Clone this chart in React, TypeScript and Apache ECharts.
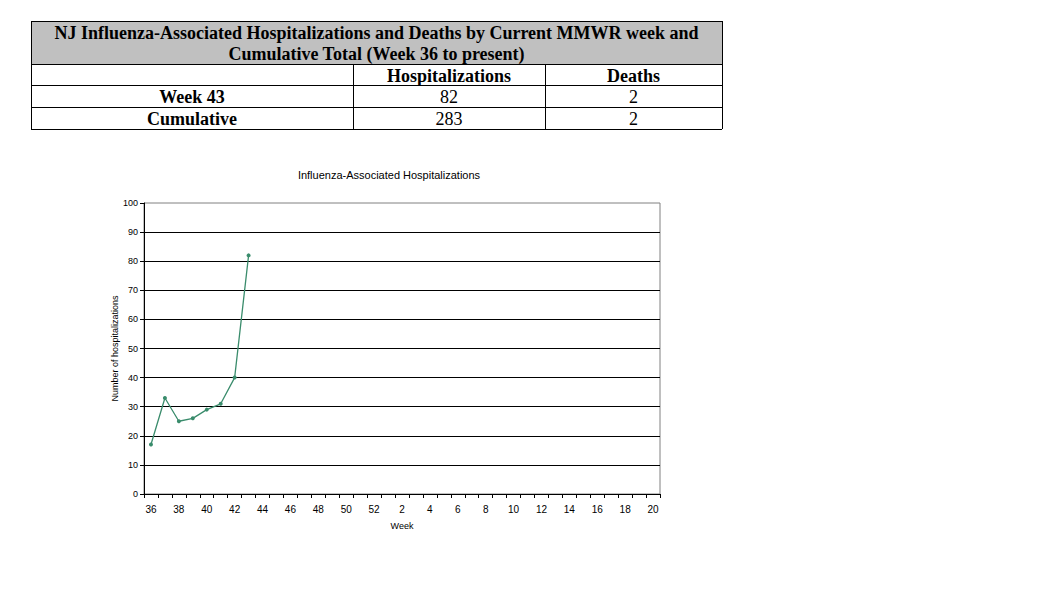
import React, { useEffect, useRef } from "react";
import * as echarts from "echarts";

const weeks: string[] = [
  "36", "37", "38", "39", "40", "41", "42", "43", "44", "45", "46", "47", "48", "49", "50", "51", "52",
  "1", "2", "3", "4", "5", "6", "7", "8", "9", "10", "11", "12", "13", "14", "15", "16", "17", "18", "19", "20",
];
const hospitalizations: number[] = [17, 33, 25, 26, 29, 31, 40, 82];

const tableTitle = [
  "NJ Influenza-Associated Hospitalizations and Deaths by Current MMWR week and",
  "Cumulative Total (Week 36 to present)",
];
const tableHeaders = ["", "Hospitalizations", "Deaths"];
const tableRows: string[][] = [
  ["Week 43", "82", "2"],
  ["Cumulative", "283", "2"],
];

export default function App() {
  const ref = useRef<HTMLDivElement>(null);
  useEffect(() => {
    if (!ref.current) return;
    const chart = echarts.init(ref.current, null, { renderer: "svg" });

    const tL = 31, tR = 722;
    const c1 = 353, c2 = 545;
    const rowY = [21, 64, 85, 107, 129];
    const colCenters = [(tL + c1) / 2, (c1 + c2) / 2, (c2 + tR) / 2];
    const serif = "'Liberation Serif', 'Times New Roman', serif";
    const sans = "Arial, 'Liberation Sans', sans-serif";
    const lineStyle = { stroke: "#000", lineWidth: 1 };

    const graphics: any[] = [];
    graphics.push({ type: "rect", shape: { x: tL, y: rowY[0], width: tR - tL, height: rowY[1] - rowY[0] }, style: { fill: "#c0c0c0" } });
    for (const y of rowY) {
      graphics.push({ type: "line", shape: { x1: tL, y1: y + 0.5, x2: tR, y2: y + 0.5 }, style: lineStyle });
    }
    graphics.push({ type: "line", shape: { x1: tL + 0.5, y1: rowY[0], x2: tL + 0.5, y2: rowY[4] }, style: lineStyle });
    graphics.push({ type: "line", shape: { x1: tR + 0.5, y1: rowY[0], x2: tR + 0.5, y2: rowY[4] }, style: lineStyle });
    for (const x of [c1, c2]) {
      graphics.push({ type: "line", shape: { x1: x + 0.5, y1: rowY[1], x2: x + 0.5, y2: rowY[4] }, style: lineStyle });
    }
    tableTitle.forEach((t, i) => {
      graphics.push({
        type: "text", x: (tL + tR) / 2, y: 33 + i * 21,
        style: { text: t, font: `bold 18px ${serif}`, fill: "#000", align: "center", verticalAlign: "middle" },
      });
    });
    tableHeaders.forEach((t, i) => {
      graphics.push({
        type: "text", x: colCenters[i], y: (rowY[1] + rowY[2]) / 2 + 1,
        style: { text: t, font: `bold 18px ${serif}`, fill: "#000", align: "center", verticalAlign: "middle" },
      });
    });
    tableRows.forEach((row, r) => {
      row.forEach((t, i) => {
        graphics.push({
          type: "text", x: colCenters[i], y: (rowY[2 + r] + rowY[3 + r]) / 2 + 1,
          style: { text: t, font: `${i === 0 ? "bold " : ""}18px ${serif}`, fill: "#000", align: "center", verticalAlign: "middle" },
        });
      });
    });

    chart.setOption({
      animation: false,
      backgroundColor: "#fff",
      title: {
        text: "Influenza-Associated Hospitalizations",
        left: 384, top: 164, textAlign: "center",
        textStyle: { fontFamily: sans, fontSize: 11, fontWeight: "normal", color: "#000" },
      },
      grid: { left: 144, top: 203, right: 400, bottom: 97, show: true, borderColor: "#808080", borderWidth: 1, backgroundColor: "transparent" },
      xAxis: {
        type: "category",
        data: weeks,
        boundaryGap: true,
        name: "Week",
        nameLocation: "middle",
        nameGap: 27,
        nameTextStyle: { fontFamily: sans, fontSize: 9, color: "#000" },
        axisLine: { lineStyle: { color: "#000", width: 1 } },
        axisTick: { show: true, interval: 0, length: 4, lineStyle: { color: "#000" } },
        axisLabel: { interval: 1, fontFamily: sans, fontSize: 10, color: "#000", margin: 10 },
        splitLine: { show: false },
      },
      yAxis: {
        type: "value",
        min: 0, max: 100, interval: 10,
        name: "Number of hospitalizations",
        nameLocation: "middle",
        nameRotate: 90,
        nameGap: 24,
        nameTextStyle: { fontFamily: sans, fontSize: 9, color: "#000" },
        axisLine: { show: true, lineStyle: { color: "#000", width: 1 } },
        axisTick: { show: true, length: 4, lineStyle: { color: "#000" } },
        axisLabel: { fontFamily: sans, fontSize: 9, color: "#000", margin: 6 },
        splitLine: { show: true, showMaxLine: false, lineStyle: { color: "#000", width: 1 } },
      },
      series: [
        {
          type: "line",
          data: hospitalizations,
          symbol: "circle",
          symbolSize: 4,
          itemStyle: { color: "#3a8c6c" },
          lineStyle: { color: "#3a8c6c", width: 1.3 },
        },
      ],
      graphic: graphics,
    });
    return () => chart.dispose();
  }, []);
  return <div ref={ref} style={{ position: "fixed", left: 0, top: 0, width: 1060, height: 591 }} />;
}
